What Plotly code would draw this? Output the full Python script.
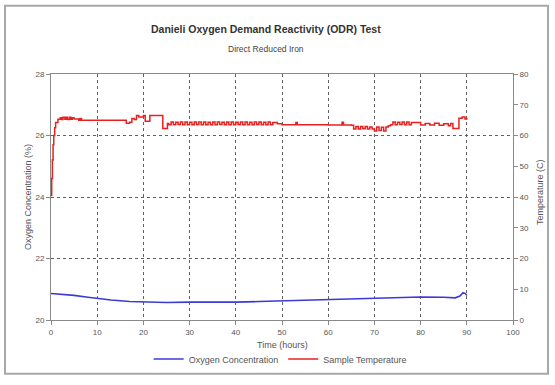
import plotly.graph_objects as go

# ---- data ----
oxy_t = [0, 2, 5, 8, 10, 13, 17, 20, 25, 30, 35, 40, 45, 50, 55, 60, 65, 70, 75, 80, 85, 87.5, 88.5, 89.2, 89.7, 90]
oxy_v = [20.86, 20.84, 20.80, 20.74, 20.70, 20.65, 20.60, 20.58, 20.57, 20.58, 20.57, 20.58, 20.60, 20.62,
         20.64, 20.66, 20.68, 20.71, 20.73, 20.75, 20.74, 20.72, 20.78, 20.89, 20.86, 20.80]

temp_t = [0, 0.15, 0.3, 0.45, 0.6, 0.8, 1.0, 1.5, 2, 2.3, 2.6, 3, 3.3, 3.6, 4, 4.3, 4.6, 5, 6, 6.3, 6.6, 8, 12, 16,
          16.3, 17, 17.5, 18, 18.5, 19, 20, 20.4, 21, 21.4, 24, 24.2, 25, 25.2,
          25.5, 26, 26.5, 27, 27.5, 28, 28.5, 29, 29.5, 30, 30.5, 31, 31.5, 32, 32.5, 33, 33.5, 34, 34.5, 35,
          35.5, 36, 36.5, 37, 37.5, 38, 38.5, 39, 39.5, 40, 40.5, 41, 41.5, 42, 42.5, 43, 43.5, 44, 44.5, 45,
          45.5, 46, 46.5, 47, 47.5, 48,
          49, 50, 52, 53, 53.3, 55, 57, 60, 62, 63, 63.3, 65,
          65.5, 66, 66.5, 67, 67.5, 68, 68.5, 69, 69.5, 70, 70.5, 71, 71.5, 72, 72.5, 73,
          73.5, 74, 74.5, 75, 75.5, 76, 76.5, 77, 77.5, 78,
          79, 80, 81, 82, 83, 84, 85, 86, 86.5, 87, 88, 88.3, 89, 89.6, 90]
temp_v = [40.5, 46, 52, 57, 60, 62.5, 64.2, 65.3, 65.8, 65.2, 65.9, 65.3, 65.9, 65.2, 65.9, 65.3, 65.8, 65.4, 65.0, 65.5, 65.0, 65.0, 65.0, 65.0,
          64.0, 64.3, 65.5, 65.2, 66.5, 66.0, 66.5, 64.6, 64.6, 66.5, 66.5, 62.3, 62.3, 63.9,
          63.5, 64.4, 63.5, 64.3, 63.6, 64.4, 63.5, 64.4, 63.5, 64.3, 63.5, 64.4, 63.6, 64.4, 63.5, 64.4, 63.5, 64.3, 63.5, 64.4,
          63.5, 64.4, 63.6, 64.3, 63.5, 64.4, 63.5, 64.4, 63.5, 64.3, 63.6, 64.4, 63.5, 64.4, 63.5, 64.3, 63.5, 64.4, 63.6, 64.4,
          63.5, 64.3, 63.5, 64.4, 63.5, 64.2,
          63.8, 63.5, 63.5, 64.2, 63.5, 63.5, 63.5, 63.4, 63.4, 64.3, 63.4, 63.3,
          62.1, 62.9, 62.1, 62.9, 62.2, 62.9, 62.1, 62.8, 62.1, 61.5, 62.8, 61.6, 62.7, 61.5, 62.8, 63.2,
          63.5, 64.4, 63.5, 64.3, 63.6, 64.4, 63.5, 64.4, 63.5, 64.2,
          64.2, 63.4, 63.9, 63.4, 64.0, 63.3, 63.8, 63.2, 63.9, 62.3, 62.3, 65.6, 66.0, 65.4, 65.8]

x_ticks = [0, 10, 20, 30, 40, 50, 60, 70, 80, 90, 100]
y1_ticks = [20, 22, 24, 26, 28]
y2_ticks = [0, 10, 20, 30, 40, 50, 60, 70, 80]

FONT = "Liberation Sans, Arial, sans-serif"
AX = "#8a8a8a"
TXT = "#555555"
GRID = "#606060"

fig = go.Figure()
fig.add_trace(go.Scatter(x=oxy_t, y=oxy_v, mode="lines", name="Oxygen Concentration",
                         line=dict(color="#3a3ad8", width=1.6), yaxis="y"))
fig.add_trace(go.Scatter(x=temp_t, y=temp_v, mode="lines", name="Sample Temperature",
                         line=dict(color="#e82020", width=1.5, shape="hv"), yaxis="y2"))

W, H = 555, 385
L, R, T, B = 51, 513, 74, 326


def px(x):
    return (x - L) / (R - L)


def py(y):
    return (B - y) / (B - T)


fig.update_layout(
    width=W, height=H,
    margin=dict(l=L, r=W - R, t=T, b=H - B, pad=0),
    paper_bgcolor="white", plot_bgcolor="white",
    font=dict(family=FONT, size=8, color=TXT),
    showlegend=True,
    legend=dict(orientation="h", x=0.496, xanchor="center", y=py(366), yanchor="middle",
                font=dict(size=9, color=TXT), tracegroupgap=0, bgcolor="rgba(0,0,0,0)"),
    xaxis=dict(range=[0, 100], tickvals=x_ticks, ticktext=[str(v) for v in x_ticks],
               showline=True, linecolor=AX, linewidth=1, mirror=True,
               ticks="outside", ticklen=4, tickcolor=AX,
               showgrid=True, gridcolor=GRID, griddash="3px,3px", gridwidth=1,
               zeroline=False, tickfont=dict(size=8, color=TXT)),
    yaxis=dict(range=[20, 28], tickvals=y1_ticks, ticktext=[str(v) for v in y1_ticks],
               showline=True, linecolor=AX, linewidth=1, mirror=True,
               ticks="outside", ticklen=4, tickcolor=AX,
               showgrid=True, gridcolor=GRID, griddash="3px,3px", gridwidth=1,
               zeroline=False, tickfont=dict(size=8, color=TXT)),
    yaxis2=dict(range=[0, 80], tickvals=y2_ticks, ticktext=[str(v) for v in y2_ticks],
                overlaying="y", side="right", showline=True, linecolor=AX, linewidth=1,
                ticks="outside", ticklen=4, tickcolor=AX, showgrid=False, zeroline=False,
                tickfont=dict(size=8, color=TXT)),
    annotations=[
        dict(text="<b>Danieli Oxygen Demand Reactivity (ODR) Test</b>", x=px(266), y=py(28),
             xref="paper", yref="paper", showarrow=False, xanchor="center", yanchor="middle",
             font=dict(size=10.5, color="#333333")),
        dict(text="Direct Reduced Iron", x=px(266), y=py(48),
             xref="paper", yref="paper", showarrow=False, xanchor="center", yanchor="middle",
             font=dict(size=8.5, color="#444444")),
        dict(text="Time (hours)", x=px(282), y=py(352),
             xref="paper", yref="paper", showarrow=False, xanchor="center", yanchor="middle",
             font=dict(size=9, color=TXT)),
        dict(text="Oxygen Concentration (%)", x=px(28), y=py(200), textangle=-90,
             xref="paper", yref="paper", showarrow=False, xanchor="center", yanchor="middle",
             font=dict(size=9, color=TXT)),
        dict(text="Temperature (C)", x=px(540), y=py(195), textangle=-90,
             xref="paper", yref="paper", showarrow=False, xanchor="center", yanchor="middle",
             font=dict(size=9, color=TXT)),
    ],
    shapes=[
        dict(type="rect", xref="paper", yref="paper", x0=px(5), x1=px(548), y0=py(381), y1=py(4),
             line=dict(color="#a8a8a8", width=2), fillcolor="rgba(0,0,0,0)", layer="below"),
    ],
)

fig.write_html("out.html")
